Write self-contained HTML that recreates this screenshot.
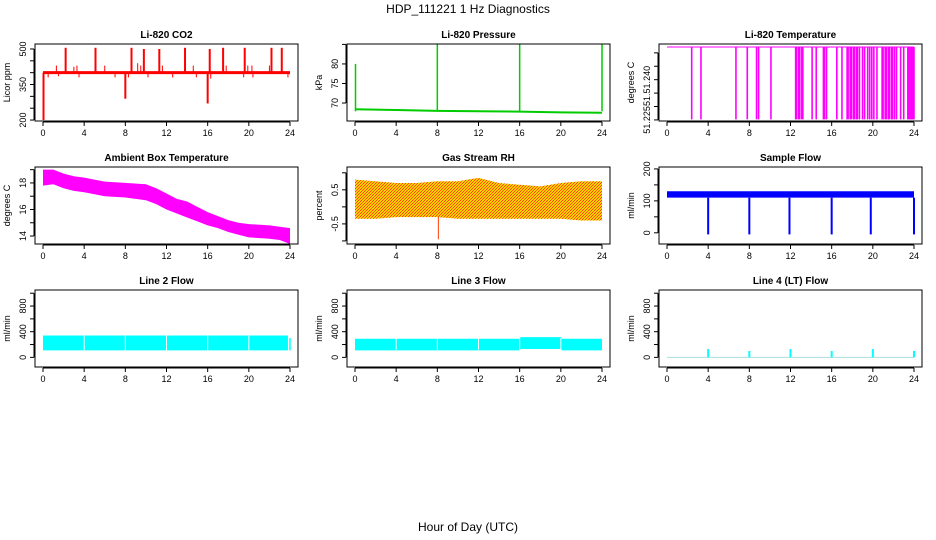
<!DOCTYPE html>
<html><head><meta charset="utf-8"><style>
html,body{margin:0;padding:0;background:#fff;}
svg{display:block;font-family:"Liberation Sans",sans-serif;}
</style></head><body>
<svg id="c" width="936" height="540" viewBox="0 0 936 540" xmlns="http://www.w3.org/2000/svg">
<defs>
<pattern id="rhpat" width="3" height="3" patternUnits="userSpaceOnUse">
<rect width="3" height="3" fill="#ffd000"/><rect x="0" y="0" width="1" height="1" fill="#ff4000"/><rect x="2" y="1" width="1" height="1" fill="#ff6000"/><rect x="1" y="2" width="1" height="1" fill="#ff4000"/>
</pattern>
</defs>
<text x="468" y="13" text-anchor="middle" font-size="12">HDP_111221  1 Hz Diagnostics</text>
<text x="468" y="531" text-anchor="middle" font-size="12">Hour of Day (UTC)</text>
<g id="plots"></g>
</svg>
<script>
// ---- data ----
const xTicks = [0,4,8,12,16,20,24];
const co2Base = 400;
const co2SpikeTimes = [2.2,5.1,8.6,9.8,11.3,13.8,16.2,17.5,19.6,22.2,23.2];
const co2SpikeVals  = [505,505,505,500,500,505,500,505,505,505,505];
const co2MidTimes = [1.3,3.0,3.3,6.0,9.2,9.5,11.6,14.6,17.8,19.9,20.3,22.0];
const co2MidVals  = [430,425,430,430,440,430,430,430,430,430,430,430];
const co2DipTimes = [0.05,0.5,1.5,3.5,7.0,8.0,8.3,10.2,12.6,14.9,16.0,16.3,19.5,20.4,23.8];
const co2DipVals  = [200,380,385,380,380,290,380,380,380,380,270,375,380,380,380];
const presBaseT = [0,4,8,12,16,20,24];
const presBaseV = [68.4,68.2,68.0,67.9,67.8,67.6,67.5];
const presSpikeT = [0.05,8,16,24];
const presSpikeV = [80,86,86,86];
const tempHigh = 51.2522, tempLow = 51.2252;
const tempDrops = [2.4,3.3,6.7,7.8,8.7,8.9,10.1,12.5,12.6,12.8,12.9,13.1,13.2,14.1,14.5,15.2,15.3,15.5,16.5,17.0,17.5,17.6,17.8,17.9,18.1,18.2,18.4,18.5,18.7,19.0,19.2,19.5,19.7,19.9,20.1,20.4,20.9,21.0,21.2,21.3,21.5,21.6,21.8,21.9,22.1,22.3,22.7,23.0,23.4,23.5,23.6,23.7,23.8,23.9,24.0];
const ambT  = [0,1,2,3,4,6,8,10,11,12,13,14,15,16,17,18,19,20,22,23,24];
const ambLo = [17.8,17.9,17.6,17.4,17.3,17.0,16.9,16.7,16.4,16.0,15.7,15.4,15.1,14.8,14.6,14.3,14.1,13.9,13.8,13.7,13.4];
const ambHi = [19.0,19.0,18.7,18.5,18.4,18.1,18.0,17.9,17.6,17.2,16.8,16.6,16.2,15.8,15.5,15.2,15.0,14.9,14.8,14.7,14.6];
const rhT  = [0,2,4,6,8,10,12,14,16,18,20,22,24];
const rhLo = [-0.35,-0.35,-0.3,-0.3,-0.3,-0.35,-0.35,-0.35,-0.35,-0.35,-0.35,-0.4,-0.4];
const rhHi = [0.8,0.75,0.7,0.7,0.75,0.75,0.85,0.7,0.65,0.6,0.7,0.75,0.75];
const sfLo = 110, sfHi = 130;
const sfDrops = [4,8,11.9,16,19.8,24];
const l2Lo = 110, l2Hi = 340;
const l2Gaps = [4,8,12,16,20];
const l3T  = [0,16,16.1,20,20.1,24];
const l3Lo = [110,110,130,130,110,110];
const l3Hi = [290,290,315,315,290,290];
const l3Gaps = [4,8,12,16,20];
const l4SpikeT = [4,8,12,16,20,24];
const l4SpikeV = [130,100,130,100,130,100];

// ---- layout ----
const NS="http://www.w3.org/2000/svg";
const root=document.getElementById('plots');
function mk(tag,attrs,parent){const e=document.createElementNS(NS,tag);for(const k in attrs)e.setAttribute(k,attrs[k]);(parent||root).appendChild(e);return e;}
const colX=[35,347,659], rowY=[44,167,290], W=263, H=77;
function panel(c,r,title,ylab,ymin,ymax,ticks,labels,name,labelText){
  const g=mk('g',{});
  
  
  const x0=colX[c], y0=rowY[r];
  const sx=h=>x0+8+h*(W-16)/24;
  const sy=v=>y0+H-(v-ymin)/(ymax-ymin)*H;
  const t=mk('text',{x:x0+W/2,y:y0-6,'text-anchor':'middle','font-size':'10','font-weight':'bold'},g);
  t.textContent=title;
  
  
  const yl=mk('text',{transform:`translate(${x0-25},${y0+H/2}) rotate(-90)`,'text-anchor':'middle','font-size':'9'},g);
  yl.textContent=ylab;
  
  
  const ax=mk('g',{stroke:'#000','stroke-width':1},g);
  xTicks.forEach(h=>{mk('line',{x1:sx(h),x2:sx(h),y1:y0+H+1,y2:y0+H+5},ax);
    const tl=mk('text',{x:sx(h),y:y0+H+15,'text-anchor':'middle','font-size':'9',stroke:'none'},ax);tl.textContent=h;
    
    });
  mk('line',{x1:sx(0),x2:sx(24),y1:y0+H+1,y2:y0+H+1},ax);
  ticks.forEach(v=>{mk('line',{x1:x0-1,x2:x0-5,y1:sy(v),y2:sy(v)},ax);});
  mk('line',{x1:x0-1,x2:x0-1,y1:sy(ticks[0]),y2:sy(ticks[ticks.length-1])},ax);
  labels.forEach((v,i)=>{const tl=mk('text',{transform:`translate(${x0-9},${sy(v)}) rotate(-90)`,'text-anchor':'middle','font-size':'9',stroke:'none'},ax);tl.textContent=labelText?labelText[i]:v;
    
    });
  const d=mk('g',{},g);
  
  
  const cp='cp'+name;
  const clip=mk('clipPath',{id:cp},g);mk('rect',{x:x0,y:y0,width:W,height:H},clip);
  d.setAttribute('clip-path',`url(#${cp})`);
  setTimeout(()=>{mk('rect',{x:x0,y:y0,width:W,height:H,fill:'none',stroke:'#000','stroke-width':1},g);},0);
  return {sx,sy,d};
}
function band(p,T,lo,hi,fill){
  let pts=T.map((t,i)=>p.sx(t)+','+p.sy(hi[i]));
  for(let i=T.length-1;i>=0;i--)pts.push(p.sx(T[i])+','+p.sy(lo[i]));
  return mk('polygon',{points:pts.join(' '),fill:fill},p.d);
}
function vline(p,t,v1,v2,col,w){return mk('line',{x1:p.sx(t),x2:p.sx(t),y1:p.sy(v1),y2:p.sy(v2),stroke:col,'stroke-width':w||1},p.d);}

// CO2
let p=panel(0,0,'Li-820 CO2','Licor ppm',196,521,[200,250,300,350,400,450,500],[200,350,500],'co2');
mk('line',{x1:p.sx(0),x2:p.sx(24),y1:p.sy(co2Base),y2:p.sy(co2Base),stroke:'red','stroke-width':3},p.d);
co2SpikeTimes.forEach((t,i)=>vline(p,t,co2Base,co2SpikeVals[i],'red',2));
co2MidTimes.forEach((t,i)=>vline(p,t,co2Base,co2MidVals[i],'red',1));
co2DipTimes.forEach((t,i)=>vline(p,t,co2Base,co2DipVals[i],'red',co2DipVals[i]<300?2:1));

// Pressure
p=panel(1,0,'Li-820 Pressure','kPa',65.4,85.1,[70,75,80,85],[70,75,80],'pressure');
mk('polyline',{points:presBaseT.map((t,i)=>p.sx(t)+','+p.sy(presBaseV[i])).join(' '),fill:'none',stroke:'#00cc00','stroke-width':2},p.d);
presSpikeT.forEach((t,i)=>vline(p,t,presBaseV[0]-0.5,presSpikeV[i],'#00cc00',1.5));

// Li-820 temperature
p=panel(2,0,'Li-820 Temperature','degrees C',51.2246,51.2533,[51.225,51.23,51.235,51.24,51.245,51.25],[51.225,51.2325,51.24],'li820-temp',['51.225','51.','51.240']);
mk('line',{x1:p.sx(0),x2:p.sx(24),y1:p.sy(tempHigh),y2:p.sy(tempHigh),stroke:'#ff00ff','stroke-width':1},p.d);
tempDrops.forEach(t=>vline(p,t,tempHigh,tempLow,'#ff00ff',1.6));

// Ambient
p=panel(0,1,'Ambient Box Temperature','degrees C',13.4,19.2,[14,15,16,17,18,19],[14,16,18],'ambient-temp');
band(p,ambT,ambLo,ambHi,'#ff00ff');

// RH
p=panel(1,1,'Gas Stream RH','percent',-1.09,1.17,[-1,-0.5,0,0.5,1],['-0.5','0.5'],'gas-rh');
band(p,rhT,rhLo,rhHi,'url(#rhpat)');
vline(p,8.1,-0.3,-0.95,'#ff4000',1);

// Sample flow
p=panel(2,1,'Sample Flow','ml/min',-35,206,[0,50,100,150,200],[0,100,200],'sample-flow');
band(p,[0,24],[sfLo,sfLo],[sfHi,sfHi],'#0000ff');
sfDrops.forEach(t=>vline(p,t,sfLo,-5,'#0000ff',2));

// Line 2
p=panel(0,2,'Line 2 Flow','ml/min',-150,1050,[0,200,400,600,800,1000],[0,400,800],'line2-flow');
band(p,[0,23.8],[l2Lo,l2Lo],[l2Hi,l2Hi],'#00ffff');
l2Gaps.forEach(t=>vline(p,t,l2Lo,l2Hi,'#fff',1));
vline(p,24,l2Lo,300,'#00ffff',1.5);

// Line 3
p=panel(1,2,'Line 3 Flow','ml/min',-150,1050,[0,200,400,600,800,1000],[0,400,800],'line3-flow');
band(p,l3T,l3Lo,l3Hi,'#00ffff');
l3Gaps.forEach(t=>vline(p,t,120,300,'#fff',1));

// Line 4
p=panel(2,2,'Line 4 (LT) Flow','ml/min',-150,1050,[0,200,400,600,800,1000],[0,400,800],'line4-flow');
mk('line',{x1:p.sx(0),x2:p.sx(24),y1:p.sy(0),y2:p.sy(0),stroke:'#aadddd','stroke-width':1},p.d);
l4SpikeT.forEach((t,i)=>vline(p,t,0,l4SpikeV[i],'#00ffff',2));
</script>
</body></html>
